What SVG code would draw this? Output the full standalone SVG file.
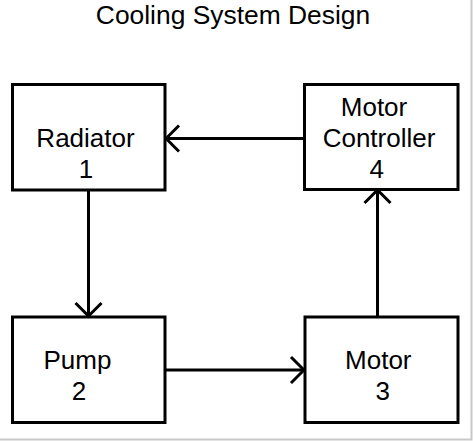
<svg xmlns="http://www.w3.org/2000/svg" width="473" height="441" viewBox="0 0 473 441">
<defs>
<style>
.box{fill:#fff;stroke:#000;stroke-width:3}
.t{font-family:"Liberation Sans",Arial,sans-serif;font-size:26px;fill:#000;text-anchor:middle}
.c{stroke:#000;stroke-width:3;fill:none}
</style>
<marker id="ah" viewBox="0 0 16 30" refX="15" refY="15" markerWidth="16" markerHeight="30" markerUnits="userSpaceOnUse" orient="auto">
<path d="M2,2 L15,15 L2,28" fill="none" stroke="#000" stroke-width="3"/>
</marker>
</defs>
<rect width="473" height="441" fill="#fff"/>
<path d="M471.5,0 V439.5 H0" fill="none" stroke="#c8c8c8" stroke-width="2"/>
<text class="t" x="233" y="24" style="font-size:26.4px">Cooling System Design</text>
<g id="connectors">
<line class="c" x1="304" y1="138.5" x2="166" y2="138.5" marker-end="url(#ah)"/>
<line class="c" x1="88.5" y1="190" x2="88.5" y2="316" marker-end="url(#ah)"/>
<line class="c" x1="165" y1="370" x2="304" y2="370" marker-end="url(#ah)"/>
<line class="c" x1="377.5" y1="317" x2="377.5" y2="190" marker-end="url(#ah)"/>
</g>
<g id="radiator">
<rect class="box" x="12.5" y="84.5" width="152.5" height="105.5"/>
<text class="t" x="85.5" y="147.3">Radiator</text>
<text class="t" x="86" y="178.3">1</text>
</g>
<g id="motor-controller">
<rect class="box" x="304.5" y="84.5" width="153.5" height="105"/>
<text class="t" x="374" y="115.7">Motor</text>
<text class="t" x="379" y="147.3">Controller</text>
<text class="t" x="376.7" y="178.3">4</text>
</g>
<g id="pump">
<rect class="box" x="12.5" y="317" width="152.5" height="105.5"/>
<text class="t" x="77.5" y="369">Pump</text>
<text class="t" x="79" y="400">2</text>
</g>
<g id="motor">
<rect class="box" x="305" y="317" width="153" height="105.5"/>
<text class="t" x="378.3" y="369">Motor</text>
<text class="t" x="382.7" y="400">3</text>
</g>
</svg>
